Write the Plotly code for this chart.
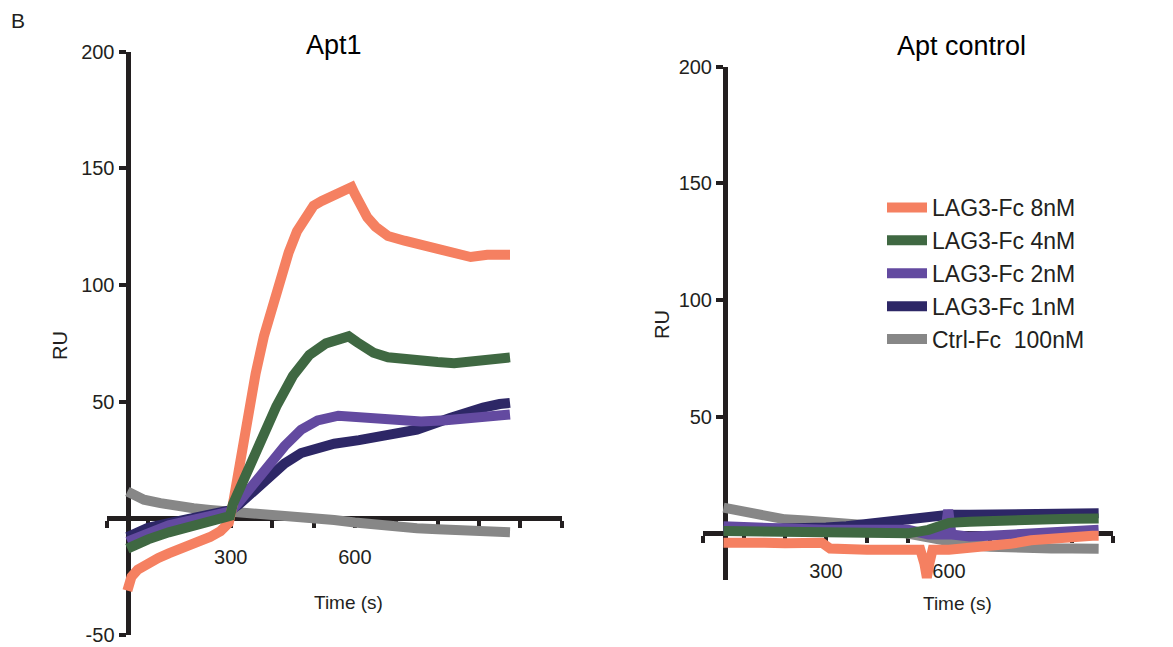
import plotly.graph_objects as go

W, H = 1173, 647

# ---------------- data ----------------
# Left panel: Apt1
l_orange_t = [50, 60, 75, 100, 125, 150, 175, 200, 225, 250, 275, 295, 305, 320, 340, 360, 380, 400, 420, 440,
              460, 480, 500, 520, 540, 560, 580, 592, 600, 615, 630, 650, 680, 720, 760, 800, 840, 880, 920, 960, 975]
l_orange_y = [-31, -25, -22, -19, -17, -15, -13.5, -12, -10, -8, -5.5, -2, 6, 22, 42, 62, 78, 91, 104, 114,
              123, 129, 134, 136, 138, 139.5, 141, 142, 139, 133, 129, 125, 121, 119, 117, 115, 113, 112, 113, 113, 113]

l_green_t = [50, 75, 100, 150, 200, 250, 298, 305, 330, 370, 410, 450, 490, 530, 560, 585, 605, 625, 645, 680,
             720, 760, 800, 840, 880, 920, 960, 975]
l_green_y = [-13, -10.5, -9, -6, -3.5, -1.5, 1, 6, 16, 33, 48, 61, 70, 75, 77, 78, 75.5, 73, 71, 69,
             68, 67.5, 67, 66.5, 67, 67.5, 68.5, 69]

l_purple_t = [50, 75, 100, 150, 200, 250, 300, 320, 350, 390, 430, 470, 510, 560, 600, 640, 700, 760, 820, 870, 920, 975]
l_purple_y = [-10, -8, -6, -3, -1, 1, 3, 7, 14, 22, 31, 38, 42, 44, 43.5, 43, 41.5, 41.5, 42, 43, 43.5, 44.5]

l_navy_t = [50, 75, 100, 150, 200, 250, 300, 320, 350, 390, 430, 470, 510, 550, 610, 670, 750, 830, 870, 910, 950, 975]
l_navy_y = [-8, -6, -4, -2, 0, 2, 3.5, 6, 11, 17, 23.5, 28, 30.5, 32, 33.5, 35, 38, 43, 45.5, 47.5, 49, 49.5]

l_gray_t = [50, 90, 130, 170, 210, 250, 300, 350, 400, 450, 500, 550, 600, 650, 700, 750, 800, 850, 900, 950, 975]
l_gray_y = [11.5, 8, 6.5, 5, 4.3, 3.6, 3, 2.5, 2, 1, 0, -0.7, -1.8, -2.8, -3.6, -4.2, -4.7, -5, -5.4, -5.7, -6]

# Right panel: Apt control
r_t = [50, 100, 150, 200, 250, 300, 350, 400, 450, 500, 550, 600, 650, 700, 750, 800, 850, 900, 950, 965]
r_gray_y = [11, 9, 7.5, 6, 5.5, 5, 4.5, 3.5, 1.5, 0, -1.5, -4, -5, -5.7, -6.2, -6.4, -6.5, -6.5, -6.6, -6.6]
r_green_y = [1, 1, 0.7, 0.5, 0.5, 0.3, 0.2, 0, 0, 0, 1.5, 4.5, 5, 5.5, 5.7, 5.8, 6, 6.2, 6.4, 6.4]
r_navy_y = [1.5, 1.5, 1.5, 2, 2, 2.5, 3, 4, 5, 5.5, 7.5, 8, 8, 8, 8.3, 8.5, 8.5, 8.6, 8.6, 8.6]

r_purple_t = [50, 100, 150, 200, 250, 300, 350, 400, 450, 500, 550, 590, 598, 606, 650, 700, 750, 800, 850, 900, 950, 965]
r_purple_y = [3, 2.5, 2.5, 2, 2, 1.5, 1.5, 1, 1.5, 1.5, -0.5, -0.5, 10, -0.5, -1.4, -1, -0.5, 0, 0.5, 1, 1.5, 1.5]

r_orange_t = [50, 100, 150, 200, 250, 290, 310, 350, 400, 450, 500, 530, 540, 546, 552, 560, 600, 650, 700, 750,
              800, 850, 900, 950, 965]
r_orange_y = [-4, -4.5, -4, -4.3, -4, -4, -6.5, -7, -7, -7, -6.5, -7, -13, -19, -13, -7, -7, -6.5, -5.5, -4.5,
              -3, -2, -1.5, -1, -1]

series_names = ["LAG3-Fc 8nM", "LAG3-Fc 4nM", "LAG3-Fc 2nM", "LAG3-Fc 1nM", "Ctrl-Fc\u00a0\u00a0100nM"]

x_tickvals_left = list(range(0, 1101, 100))
x_tickvals_right = list(range(0, 1001, 100))
x_labeled = [300, 600]
y_tickvals_left = [-50, 0, 50, 100, 150, 200]
y_tickvals_right = [0, 50, 100, 150, 200]

# ---------------- style ----------------
ORANGE = "#F58061"
GREEN = "#3F6842"
PURPLE = "#634AA0"
NAVY = "#2D2766"
GRAY = "#878787"
AX = "#231F20"
FONT = "Liberation Sans, Arial, sans-serif"
LW = 10
OFF = 8  # page body margin

fig = go.Figure()

def add(t, y, color, name, rank, xa, ya, show):
    fig.add_trace(go.Scatter(x=t, y=y, mode="lines", line=dict(color=color, width=LW),
                             name=name, legendrank=rank, showlegend=show,
                             xaxis=xa, yaxis=ya, hoverinfo="skip"))

# drawing order: gray, navy, purple, orange, green (green on top)
add(l_gray_t, l_gray_y, GRAY, series_names[4], 5, "x", "y", False)
add(l_navy_t, l_navy_y, NAVY, series_names[3], 4, "x", "y", False)
add(l_purple_t, l_purple_y, PURPLE, series_names[2], 3, "x", "y", False)
add(l_orange_t, l_orange_y, ORANGE, series_names[0], 1, "x", "y", False)
add(l_green_t, l_green_y, GREEN, series_names[1], 2, "x", "y", False)

add(r_t, r_gray_y, GRAY, series_names[4], 5, "x2", "y2", True)
add(r_t, r_navy_y, NAVY, series_names[3], 4, "x2", "y2", True)
add(r_purple_t, r_purple_y, PURPLE, series_names[2], 3, "x2", "y2", True)
add(r_orange_t, r_orange_y, ORANGE, series_names[0], 1, "x2", "y2", True)
add(r_t, r_green_y, GREEN, series_names[1], 2, "x2", "y2", True)

def px(x):
    return (x - OFF) / W

def py(y):
    return 1 - (y - OFF) / H

axis_common = dict(showline=True, linewidth=5, linecolor=AX, ticks="outside", ticklen=7, tickwidth=4,
                   tickcolor=AX, showgrid=False, zeroline=False, layer="below traces", automargin=False,
                   tickfont=dict(family=FONT, size=20, color=AX), anchor="free", fixedrange=True)

def xt(vals):
    return [str(v) if v in x_labeled else "" for v in vals]

def yt(vals):
    return ["" if v == 0 else str(v) for v in vals]

def ann(text, x, y, size, angle=0, color=AX):
    return dict(text=text, x=px(x), y=py(y), xref="paper", yref="paper", showarrow=False,
                xanchor="center", yanchor="middle", textangle=angle,
                font=dict(family=FONT, size=size, color=color))

fig.update_layout(
    width=W, height=H, margin=dict(l=0, r=0, t=0, b=0, pad=0, autoexpand=False),
    paper_bgcolor="white", plot_bgcolor="white",
    font=dict(family=FONT, color=AX),
    xaxis=dict(axis_common, domain=[px(106.7), px(561.7)], range=[0, 1100], position=py(518.3),
               tickvals=x_tickvals_left, ticktext=xt(x_tickvals_left), ticklabelstandoff=12),
    yaxis=dict(axis_common, domain=[py(635), py(51.7)], range=[-50, 200], position=px(127.5),
               tickvals=y_tickvals_left, ticktext=yt(y_tickvals_left)),
    xaxis2=dict(axis_common, domain=[px(703), px(1113)], range=[0, 1000], position=py(533.3),
                tickvals=x_tickvals_right, ticktext=xt(x_tickvals_right), ticklabelstandoff=11),
    yaxis2=dict(axis_common, domain=[py(580), py(66.7)], range=[-20, 200], position=px(725),
                tickvals=y_tickvals_right, ticktext=yt(y_tickvals_right)),
    legend=dict(x=px(882), y=py(186), xanchor="left", yanchor="top", bgcolor="rgba(0,0,0,0)",
                font=dict(family=FONT, size=23, color=AX), tracegroupgap=0, itemwidth=40),
    annotations=[
        ann("B", 18, 20, 21),
        ann("Apt1", 334, 45, 27, color="black"),
        ann("Apt control", 961, 46, 27, color="black"),
        ann("RU", 60, 346, 20, angle=-90),
        ann("RU", 662, 325, 20, angle=-90),
        ann("Time (s)", 348, 602, 19),
        ann("Time (s)", 957, 603, 19),
    ],
)

fig.write_html("out.html")
